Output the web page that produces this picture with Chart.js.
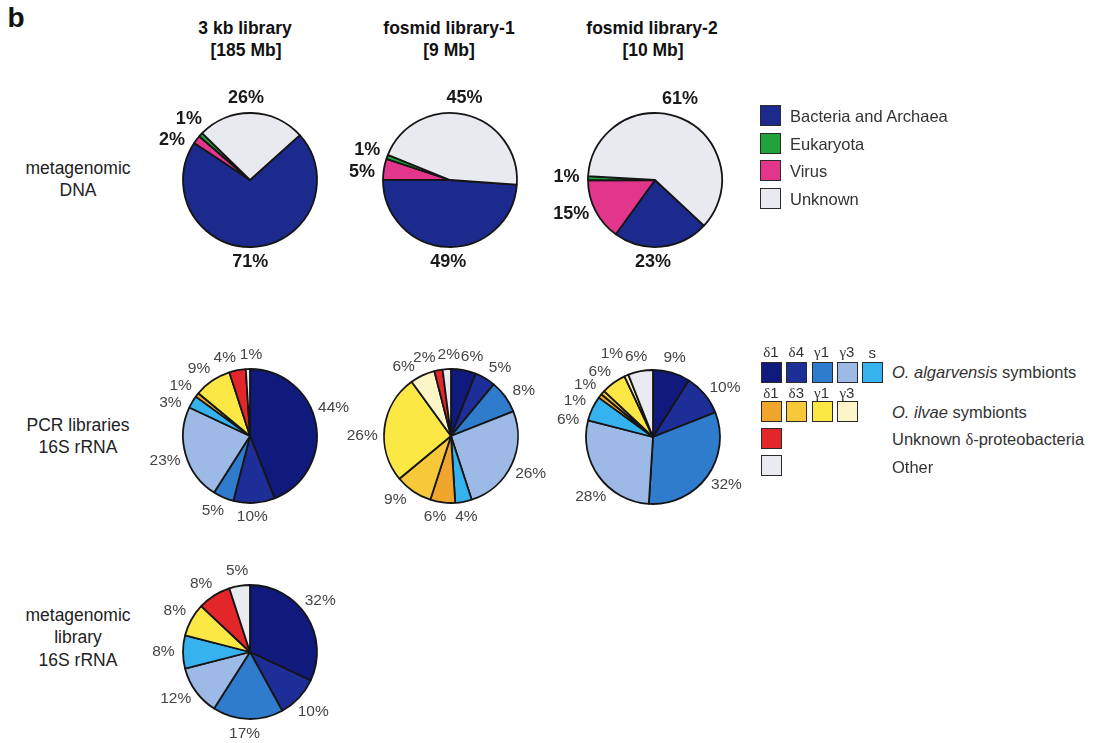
<!DOCTYPE html>
<html>
<head>
<meta charset="utf-8">
<script src="https://cdn.jsdelivr.net/npm/chart.js@4.4.1/dist/chart.umd.min.js"></script>
<style>
  body { margin: 0; background: #fff; font-family: "Liberation Sans", Arial, sans-serif; color: #222; }
  #fig { position: relative; width: 1095px; height: 743px; overflow: hidden; }
  .t { position: absolute; transform: translate(-50%, -50%); white-space: nowrap; }
  .head { font-weight: bold; font-size: 17.5px; color: #111; }
  .row { font-size: 17.5px; color: #222; text-align: center; }
  .pie { position: absolute; }
  .sw { position: absolute; box-sizing: border-box; width: 21px; height: 21px; border: 1.5px solid #2a2a2a; }
  .lt { position: absolute; transform: translateY(-50%); white-space: nowrap; font-size: 16.5px; color: #333; }
  .gk { position: absolute; transform: translate(-50%, -50%); font-size: 15px; color: #333; white-space: nowrap; }
  .gr { font-family: "Liberation Serif", serif; }
</style>
</head>
<body>
<div id="fig">
  <div class="t" style="left:16px;top:18px;font-weight:bold;font-size:28px;color:#111">b</div>

  <div class="t head" style="left:245px;top:28px">3 kb library</div>
  <div class="t head" style="left:246px;top:50px">[185 Mb]</div>
  <div class="t head" style="left:449px;top:28px">fosmid library-1</div>
  <div class="t head" style="left:449px;top:50px">[9 Mb]</div>
  <div class="t head" style="left:652px;top:28px">fosmid library-2</div>
  <div class="t head" style="left:653px;top:50px">[10 Mb]</div>

  <div class="t row" style="left:78px;top:168px">metagenomic</div>
  <div class="t row" style="left:78px;top:190px">DNA</div>
  <div class="t row" style="left:78px;top:425px">PCR libraries</div>
  <div class="t row" style="left:78px;top:447px">16S rRNA</div>
  <div class="t row" style="left:78px;top:615px">metagenomic</div>
  <div class="t row" style="left:78px;top:637px">library</div>
  <div class="t row" style="left:78px;top:660px">16S rRNA</div>
</div>

<script>
// top row: composition of metagenomic DNA by domain (%)
const domainNames = ['Bacteria and Archaea', 'Virus', 'Eukaryota', 'Unknown'];
const domainColors = ['#1b2a8c', '#e2358c', '#1fa33a', '#e9eaf0'];
const domainLegendOrder = [0, 2, 1, 3];
const dna3kb  = [71, 2, 1, 26];
const dnaFos1 = [49, 5, 1, 45];
const dnaFos2 = [23, 15, 1, 61];

// 16S rRNA groups (%)
const groupNames = [
  'δ1 O. algarvensis', 'δ4 O. algarvensis', 'γ1 O. algarvensis', 'γ3 O. algarvensis', 'spirochete O. algarvensis',
  'δ1 O. ilvae', 'δ3 O. ilvae', 'γ1 O. ilvae', 'γ3 O. ilvae',
  'Unknown δ-proteobacteria', 'Other'
];
const groupColors = [
  '#0f1a7c', '#1d2e98', '#2f7bcc', '#9dbae6', '#36b2ee',
  '#f0a62c', '#f7c93a', '#fbe845', '#fcf5c8',
  '#e2262a', '#eaebf1'
];
const groupTicks = ['δ1', 'δ4', 'γ1', 'γ3', 's', 'δ1', 'δ3', 'γ1', 'γ3'];
const pcr3kb  = [44, 10, 5, 23, 3, 1, 0, 9, 0, 4, 1];
const pcrFos1 = [6, 5, 8, 26, 4, 6, 9, 26, 6, 2, 2];
const pcrFos2 = [9, 10, 32, 28, 6, 1, 1, 6, 1, 0, 6];
const metaLib = [32, 10, 17, 12, 8, 0, 0, 8, 0, 8, 5];

// percent labels around each pie, at the slice's mid angle
// (+ a small nudge in degrees, + optional extra distance for crowded spots)
const sliceLabels = {
  id: 'sliceLabels',
  afterDatasetsDraw(chart, args, opts) {
    const ctx = chart.ctx;
    const meta = chart.getDatasetMeta(0);
    const values = chart.data.datasets[0].data;
    ctx.save();
    ctx.font = opts.font;
    ctx.fillStyle = opts.color;
    ctx.textAlign = 'center';
    ctx.textBaseline = 'middle';
    meta.data.forEach((arc, i) => {
      const p = arc.getProps(['x', 'y', 'startAngle', 'endAngle', 'outerRadius'], true);
      const a = (p.startAngle + p.endAngle) / 2 + (opts.nudge[i] || 0) * Math.PI / 180;
      const txt = values[i] + '%';
      const w = ctx.measureText(txt).width;
      const d = p.outerRadius + opts.gap + (opts.push[i] || 0) + Math.abs(Math.cos(a)) * w * 0.25;
      ctx.fillText(txt, p.x + Math.cos(a) * d, p.y + Math.sin(a) * d);
    });
    ctx.restore();
  }
};

const pies = [
  { x: 250, y: 180, values: dna3kb,  names: domainNames, colors: domainColors, rotation: 48,  nudge: [4, -10, 2.5, -4], top: true },
  { x: 450, y: 180, values: dnaFos1, names: domainNames, colors: domainColors, rotation: 94,  nudge: [-1, -4, 0, -3], top: true },
  { x: 655, y: 180, values: dnaFos2, names: domainNames, colors: domainColors, rotation: 133, nudge: [7, 5, 0, -6], top: true },
  { x: 250, y: 436, values: pcr3kb,  names: groupNames, colors: groupColors, rotation: 0, nudge: [-8, 2, 3, 0, -8, -2, 0, -3, 0, -7, 2.5] },
  { x: 451, y: 436, values: pcrFos1, names: groupNames, colors: groupColors, rotation: 0, nudge: [4, 5, 4, 0, 0, 4, 7, -7, -9, -8, 2] },
  { x: 653, y: 437, values: pcrFos2, names: groupNames, colors: groupColors, rotation: 0, nudge: [-1, 5, -3, -8, -14, -13, -4, -3, -3, 0, -1],
    push: [0, 0, 0, 0, 0, 0, 0, 0, 9, 0, 0] },
  { x: 250, y: 652, values: metaLib, names: groupNames, colors: groupColors, rotation: 0, nudge: [-4, 0, 2, 4, 0, 0, 0, 0, 0, -3, 0] }
];

const fig = document.getElementById('fig');
const SIZE = 240;

pies.forEach(p => {
  const keep = p.values.map((v, i) => i).filter(i => p.values[i] > 0);
  const push = p.push || [];
  const canvas = document.createElement('canvas');
  canvas.className = 'pie';
  canvas.width = SIZE;
  canvas.height = SIZE;
  canvas.style.left = (p.x - SIZE / 2) + 'px';
  canvas.style.top = (p.y - SIZE / 2) + 'px';
  fig.appendChild(canvas);

  new Chart(canvas, {
    type: 'pie',
    data: {
      labels: keep.map(i => p.names[i]),
      datasets: [{
        data: keep.map(i => p.values[i]),
        backgroundColor: keep.map(i => p.colors[i]),
        borderColor: '#151515',
        borderWidth: 1.8,
        hoverOffset: 0,
        rotation: p.rotation,
        radius: 67
      }]
    },
    options: {
      responsive: false,
      animation: false,
      rotation: p.rotation,
      radius: 67,
      layout: { padding: 0 },
      plugins: {
        legend: { display: false },
        tooltip: { enabled: false },
        sliceLabels: {
          nudge: keep.map(i => p.nudge[i]),
          push: keep.map(i => push[i] || 0),
          font: p.top ? 'bold 18px "Liberation Sans", Arial, sans-serif' : '15.5px "Liberation Sans", Arial, sans-serif',
          color: p.top ? '#1a1a1a' : '#444',
          gap: p.top ? 15 : 14
        }
      }
    },
    plugins: [sliceLabels]
  });
});

// legends
function swatch(left, top, color) {
  const d = document.createElement('div');
  d.className = 'sw';
  d.style.left = left + 'px';
  d.style.top = top + 'px';
  d.style.background = color;
  fig.appendChild(d);
}
function text(cls, left, top, html) {
  const d = document.createElement('div');
  d.className = cls;
  d.style.left = left + 'px';
  d.style.top = top + 'px';
  d.innerHTML = html;
  fig.appendChild(d);
}
function greek(s) {
  return s.replace(/([δγ])/g, '<span class="gr">$1</span>');
}

domainLegendOrder.forEach((k, j) => {
  swatch(760, 105 + j * 27.7, domainColors[k]);
  text('lt', 790, 116 + j * 27.7, domainNames[k]);
});

for (let i = 0; i < 5; i++) {
  text('gk', 771 + i * 25.3, 352, greek(groupTicks[i]));
  swatch(761 + i * 25.3, 362, groupColors[i]);
}
for (let i = 5; i < 9; i++) {
  text('gk', 771 + (i - 5) * 25.3, 393, greek(groupTicks[i]));
  swatch(761 + (i - 5) * 25.3, 401, groupColors[i]);
}
swatch(761, 428, groupColors[9]);
swatch(761, 455, groupColors[10]);
text('lt', 892, 372, '<i>O. algarvensis</i> symbionts');
text('lt', 892, 412, '<i>O. ilvae</i> symbionts');
text('lt', 892, 440, greek(groupNames[9]));
text('lt', 892, 467, groupNames[10]);
</script>
</body>
</html>
